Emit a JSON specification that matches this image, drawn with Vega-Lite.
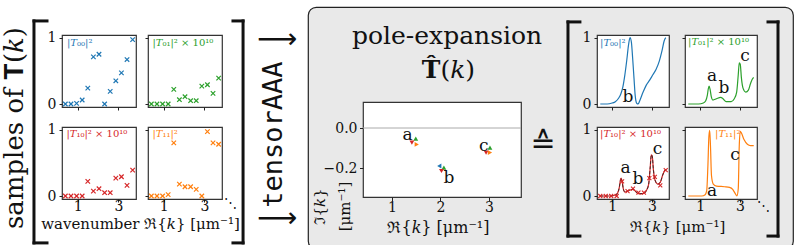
{
  "$schema": "https://vega.github.io/schema/vega-lite/v6.json",
  "padding": 0,
  "bounds": "flush",
  "spacing": 0,
  "config": {
    "view": {"stroke": null},
    "text": {"font": "DejaVu Serif", "color": "#111"},
    "axis": {"domain": false, "grid": false, "tickColor": "#222", "tickWidth": 1, "labelFont": "DejaVu Serif", "labelFontSize": 14, "labelColor": "#111", "labelFlush": false, "labelOverlap": false, "titleFont": "DejaVu Serif", "titleFontSize": 15, "titleFontWeight": "normal", "titleColor": "#111"}
  },
  "datasets": {
    "samples": [
      {"re": 0.4, "T00": 0, "T01": 0, "T10": 0, "T11": 0},
      {"re": 0.675, "T00": 0, "T01": 0, "T10": 0, "T11": 0},
      {"re": 0.95, "T00": 0.01, "T01": 0, "T10": 0, "T11": 0},
      {"re": 1.225, "T00": 0.06, "T01": 0, "T10": 0, "T11": 0.02},
      {"re": 1.5, "T00": 0.24, "T01": 0.22, "T10": 0.22, "T11": 0.8},
      {"re": 1.775, "T00": 0.71, "T01": 0.065, "T10": 0.074, "T11": 0.18},
      {"re": 2.05, "T00": 0.75, "T01": 0.11, "T10": 0.11, "T11": 0.14},
      {"re": 2.325, "T00": 0, "T01": 0.05, "T10": 0.05, "T11": 0.14},
      {"re": 2.6, "T00": 0.19, "T01": 0.05, "T10": 0.05, "T11": 0.1},
      {"re": 2.875, "T00": 0.35, "T01": 0.27, "T10": 0.27, "T11": 0},
      {"re": 3.15, "T00": 0.47, "T01": 0.29, "T10": 0.29, "T11": 0.97},
      {"re": 3.425, "T00": 0.67, "T01": 0.16, "T10": 0.16, "T11": 0.8},
      {"re": 3.7, "T00": 0.97, "T01": 0.39, "T10": 0.39, "T11": 0.78}
    ],
    "curves": [
      {"el": "T00", "re": 0.4, "v": 0}, {"el": "T00", "re": 0.75, "v": 0}, {"el": "T00", "re": 1.0, "v": 0.015}, {"el": "T00", "re": 1.16, "v": 0.035}, {"el": "T00", "re": 1.33, "v": 0.09}, {"el": "T00", "re": 1.44, "v": 0.155}, {"el": "T00", "re": 1.54, "v": 0.26}, {"el": "T00", "re": 1.64, "v": 0.44}, {"el": "T00", "re": 1.74, "v": 0.67}, {"el": "T00", "re": 1.82, "v": 0.88}, {"el": "T00", "re": 1.9, "v": 1.0}, {"el": "T00", "re": 1.97, "v": 0.93}, {"el": "T00", "re": 2.03, "v": 0.7}, {"el": "T00", "re": 2.1, "v": 0.39}, {"el": "T00", "re": 2.16, "v": 0.13}, {"el": "T00", "re": 2.23, "v": 0.015}, {"el": "T00", "re": 2.31, "v": 0}, {"el": "T00", "re": 2.39, "v": 0.05}, {"el": "T00", "re": 2.56, "v": 0.18}, {"el": "T00", "re": 2.72, "v": 0.285}, {"el": "T00", "re": 2.89, "v": 0.36}, {"el": "T00", "re": 3.05, "v": 0.44}, {"el": "T00", "re": 3.21, "v": 0.52}, {"el": "T00", "re": 3.38, "v": 0.65}, {"el": "T00", "re": 3.51, "v": 0.8}, {"el": "T00", "re": 3.62, "v": 0.95}, {"el": "T00", "re": 3.7, "v": 1.0},
      {"el": "T01", "re": 0.4, "v": 0}, {"el": "T01", "re": 0.92, "v": 0}, {"el": "T01", "re": 1.16, "v": 0.015}, {"el": "T01", "re": 1.28, "v": 0.05}, {"el": "T01", "re": 1.36, "v": 0.13}, {"el": "T01", "re": 1.41, "v": 0.23}, {"el": "T01", "re": 1.45, "v": 0.27}, {"el": "T01", "re": 1.5, "v": 0.22}, {"el": "T01", "re": 1.56, "v": 0.11}, {"el": "T01", "re": 1.64, "v": 0.06}, {"el": "T01", "re": 1.82, "v": 0.08}, {"el": "T01", "re": 2.03, "v": 0.1}, {"el": "T01", "re": 2.15, "v": 0.08}, {"el": "T01", "re": 2.31, "v": 0.036}, {"el": "T01", "re": 2.56, "v": 0.036}, {"el": "T01", "re": 2.72, "v": 0.08}, {"el": "T01", "re": 2.84, "v": 0.18}, {"el": "T01", "re": 2.92, "v": 0.44}, {"el": "T01", "re": 2.97, "v": 0.62}, {"el": "T01", "re": 3.02, "v": 0.6}, {"el": "T01", "re": 3.08, "v": 0.39}, {"el": "T01", "re": 3.16, "v": 0.24}, {"el": "T01", "re": 3.3, "v": 0.18}, {"el": "T01", "re": 3.43, "v": 0.21}, {"el": "T01", "re": 3.54, "v": 0.31}, {"el": "T01", "re": 3.64, "v": 0.38}, {"el": "T01", "re": 3.7, "v": 0.4},
      {"el": "T10", "re": 0.4, "v": 0}, {"el": "T10", "re": 0.92, "v": 0}, {"el": "T10", "re": 1.16, "v": 0.015}, {"el": "T10", "re": 1.28, "v": 0.05}, {"el": "T10", "re": 1.36, "v": 0.13}, {"el": "T10", "re": 1.41, "v": 0.23}, {"el": "T10", "re": 1.45, "v": 0.27}, {"el": "T10", "re": 1.5, "v": 0.22}, {"el": "T10", "re": 1.56, "v": 0.11}, {"el": "T10", "re": 1.64, "v": 0.06}, {"el": "T10", "re": 1.82, "v": 0.08}, {"el": "T10", "re": 2.03, "v": 0.1}, {"el": "T10", "re": 2.15, "v": 0.08}, {"el": "T10", "re": 2.31, "v": 0.036}, {"el": "T10", "re": 2.56, "v": 0.036}, {"el": "T10", "re": 2.72, "v": 0.08}, {"el": "T10", "re": 2.84, "v": 0.18}, {"el": "T10", "re": 2.92, "v": 0.44}, {"el": "T10", "re": 2.97, "v": 0.62}, {"el": "T10", "re": 3.02, "v": 0.6}, {"el": "T10", "re": 3.08, "v": 0.39}, {"el": "T10", "re": 3.16, "v": 0.24}, {"el": "T10", "re": 3.3, "v": 0.18}, {"el": "T10", "re": 3.43, "v": 0.21}, {"el": "T10", "re": 3.54, "v": 0.31}, {"el": "T10", "re": 3.64, "v": 0.38}, {"el": "T10", "re": 3.7, "v": 0.4},
      {"el": "T11", "re": 0.4, "v": 0}, {"el": "T11", "re": 1.08, "v": 0}, {"el": "T11", "re": 1.25, "v": 0.02}, {"el": "T11", "re": 1.33, "v": 0.08}, {"el": "T11", "re": 1.39, "v": 0.46}, {"el": "T11", "re": 1.44, "v": 0.9}, {"el": "T11", "re": 1.48, "v": 0.99}, {"el": "T11", "re": 1.52, "v": 0.75}, {"el": "T11", "re": 1.57, "v": 0.31}, {"el": "T11", "re": 1.66, "v": 0.18}, {"el": "T11", "re": 1.82, "v": 0.15}, {"el": "T11", "re": 2.23, "v": 0.14}, {"el": "T11", "re": 2.48, "v": 0.13}, {"el": "T11", "re": 2.64, "v": 0.1}, {"el": "T11", "re": 2.77, "v": 0.035}, {"el": "T11", "re": 2.85, "v": 0}, {"el": "T11", "re": 2.92, "v": 0.11}, {"el": "T11", "re": 2.97, "v": 0.75}, {"el": "T11", "re": 3.02, "v": 0.975}, {"el": "T11", "re": 3.08, "v": 0.95}, {"el": "T11", "re": 3.21, "v": 0.85}, {"el": "T11", "re": 3.38, "v": 0.78}, {"el": "T11", "re": 3.54, "v": 0.76}, {"el": "T11", "re": 3.7, "v": 0.76}
    ],
    "poles": [
      {"el": "T01", "re": 1.49, "im": -0.053},
      {"el": "T10", "re": 1.41, "im": -0.073},
      {"el": "T11", "re": 1.51, "im": -0.082},
      {"el": "T00", "re": 1.975, "im": -0.19},
      {"el": "T01", "re": 2.07, "im": -0.198},
      {"el": "T10", "re": 2.02, "im": -0.215},
      {"el": "T01", "re": 3.02, "im": -0.098},
      {"el": "T10", "re": 2.94, "im": -0.123},
      {"el": "T11", "re": 3.02, "im": -0.123}
    ]
  },
  "hconcat": [
    {
      "width": 62, "height": 245,
      "data": {"values": [{}]},
      "layer": [
        {"mark": {"type": "text", "angle": 270, "fontSize": 26, "align": "center", "baseline": "middle"},
         "encoding": {"x": {"datum": 0.242, "type": "quantitative", "scale": {"domain": [0, 1]}, "axis": null}, "y": {"datum": 0.502, "type": "quantitative", "scale": {"domain": [0, 1]}, "axis": null}, "text": {"value": "samples of 𝐓(𝑘)"}}},
        {"mark": {"type": "rule", "strokeWidth": 3, "color": "#111", "strokeCap": "square"},
         "encoding": {"x": {"datum": 0.548, "type": "quantitative"}, "y": {"datum": 0.033, "type": "quantitative"}, "y2": {"datum": 0.939}}},
        {"mark": {"type": "rule", "strokeWidth": 3, "color": "#111", "strokeCap": "square"},
         "encoding": {"x": {"datum": 0.548, "type": "quantitative"}, "x2": {"datum": 0.758}, "y": {"datum": 0.939, "type": "quantitative"}}},
        {"mark": {"type": "rule", "strokeWidth": 3, "color": "#111", "strokeCap": "square"},
         "encoding": {"x": {"datum": 0.548, "type": "quantitative"}, "x2": {"datum": 0.758}, "y": {"datum": 0.033, "type": "quantitative"}}}
      ]
    },
    {
      "concat": [
        {"width": 74, "height": 9, "data": {"values": [{}]}, "mark": {"type": "text"}, "encoding": {}},
        {"width": 74, "height": 9, "data": {"values": [{}]}, "mark": {"type": "text"}, "encoding": {}},
        {
          "width": 74, "height": 72,
          "view": {"stroke": "#333", "strokeWidth": 1.2, "fill": "white"},
          "layer": [
            {"data": {"name": "samples"},
             "mark": {"type": "point", "shape": "M-1,-1L1,1M1,-1L-1,1", "filled": false, "strokeWidth": 1.2, "size": 20, "color": "#1f77b4", "opacity": 1},
             "encoding": {
               "x": {"field": "re", "type": "quantitative", "scale": {"domain": [0.235, 3.865], "nice": false, "zero": false}, "axis": {"values": [1, 2, 3], "labels": false, "title": null, "tickSize": 3}},
               "y": {"field": "T00", "type": "quantitative", "scale": {"domain": [-0.045, 1.04], "nice": false, "zero": false}, "axis": {"values": [0, 1], "format": "d", "title": null, "tickSize": 3, "labelPadding": 3}}}},
            {"data": {"values": [{}]},
             "mark": {"type": "text", "align": "left", "baseline": "middle", "fontSize": 10, "color": "#1f77b4"},
             "encoding": {"x": {"datum": 0.48, "type": "quantitative"}, "y": {"datum": 0.92, "type": "quantitative"}, "text": {"value": "|𝑇₀₀|²"}}}
          ]
        },
        {
          "width": 74, "height": 72,
          "view": {"stroke": "#333", "strokeWidth": 1.2, "fill": "white"},
          "layer": [
            {"data": {"name": "samples"},
             "mark": {"type": "point", "shape": "M-1,-1L1,1M1,-1L-1,1", "filled": false, "strokeWidth": 1.2, "size": 20, "color": "#2ca02c", "opacity": 1},
             "encoding": {
               "x": {"field": "re", "type": "quantitative", "scale": {"domain": [0.235, 3.865], "nice": false, "zero": false}, "axis": {"values": [1, 2, 3], "labels": false, "title": null, "tickSize": 3}},
               "y": {"field": "T01", "type": "quantitative", "scale": {"domain": [-0.045, 1.04], "nice": false, "zero": false}, "axis": {"values": [0, 1], "labels": false, "title": null, "tickSize": 3}}}},
            {"data": {"values": [{}]},
             "mark": {"type": "text", "align": "left", "baseline": "middle", "fontSize": 10, "color": "#2ca02c"},
             "encoding": {"x": {"datum": 0.45, "type": "quantitative"}, "y": {"datum": 0.92, "type": "quantitative"}, "text": {"value": "|𝑇₀₁|² × 10¹⁰"}}}
          ]
        },
        {
          "width": 74, "height": 72,
          "view": {"stroke": "#333", "strokeWidth": 1.2, "fill": "white"},
          "layer": [
            {"data": {"name": "samples"},
             "mark": {"type": "point", "shape": "M-1,-1L1,1M1,-1L-1,1", "filled": false, "strokeWidth": 1.2, "size": 20, "color": "#d62728", "opacity": 1},
             "encoding": {
               "x": {"field": "re", "type": "quantitative", "scale": {"domain": [0.235, 3.865], "nice": false, "zero": false}, "axis": {"values": [1, 2, 3], "format": "d", "title": "wavenumber ℜ{𝑘} [μm⁻¹]", "titleX": 78, "titleY": 24, "titleBaseline": "middle", "titleAlign": "center", "tickSize": 3, "labelBaseline": "middle", "labelPadding": 4}},
               "y": {"field": "T10", "type": "quantitative", "scale": {"domain": [-0.045, 1.04], "nice": false, "zero": false}, "axis": {"values": [0, 1], "format": "d", "title": null, "tickSize": 3, "labelPadding": 3}}}},
            {"data": {"values": [{}]},
             "mark": {"type": "text", "align": "left", "baseline": "middle", "fontSize": 10, "color": "#d62728"},
             "encoding": {"x": {"datum": 0.45, "type": "quantitative"}, "y": {"datum": 0.93, "type": "quantitative"}, "text": {"value": "|𝑇₁₀|² × 10¹⁰"}}}
          ]
        },
        {
          "width": 74, "height": 72,
          "view": {"stroke": "#333", "strokeWidth": 1.2, "fill": "white"},
          "layer": [
            {"data": {"name": "samples"},
             "mark": {"type": "point", "shape": "M-1,-1L1,1M1,-1L-1,1", "filled": false, "strokeWidth": 1.2, "size": 20, "color": "#ff7f0e", "opacity": 1},
             "encoding": {
               "x": {"field": "re", "type": "quantitative", "scale": {"domain": [0.235, 3.865], "nice": false, "zero": false}, "axis": {"values": [1, 2, 3], "format": "d", "title": null, "tickSize": 3, "labelBaseline": "middle", "labelPadding": 4}},
               "y": {"field": "T11", "type": "quantitative", "scale": {"domain": [-0.045, 1.04], "nice": false, "zero": false}, "axis": {"values": [0, 1], "labels": false, "title": null, "tickSize": 3}}}},
            {"data": {"values": [{}]},
             "mark": {"type": "text", "align": "left", "baseline": "middle", "fontSize": 10, "color": "#ff7f0e"},
             "encoding": {"x": {"datum": 0.45, "type": "quantitative"}, "y": {"datum": 0.93, "type": "quantitative"}, "text": {"value": "|𝑇₁₁|²"}}}
          ]
        }
      ],
      "columns": 2, "spacing": {"row": 20, "column": 12}, "bounds": "flush", "align": "each"
    },
    {
      "width": 246, "height": 245,
      "data": {"values": [{}]},
      "layer": [
        {"mark": {"type": "rule", "strokeWidth": 3, "color": "#111", "strokeCap": "square"},
         "encoding": {"x": {"datum": 0.736, "type": "quantitative", "scale": {"domain": [0, 1]}, "axis": null}, "y": {"datum": 0.033, "type": "quantitative", "scale": {"domain": [0, 1]}, "axis": null}, "y2": {"datum": 0.939}}},
        {"mark": {"type": "rule", "strokeWidth": 3, "color": "#111", "strokeCap": "square"},
         "encoding": {"x": {"datum": 0.695, "type": "quantitative"}, "x2": {"datum": 0.736}, "y": {"datum": 0.939, "type": "quantitative"}}},
        {"mark": {"type": "rule", "strokeWidth": 3, "color": "#111", "strokeCap": "square"},
         "encoding": {"x": {"datum": 0.695, "type": "quantitative"}, "x2": {"datum": 0.736}, "y": {"datum": 0.033, "type": "quantitative"}}},
        {"mark": {"type": "text", "fontSize": 13, "align": "center", "baseline": "middle"},
         "encoding": {"x": {"datum": 0.683, "type": "quantitative"}, "y": {"datum": 0.196, "type": "quantitative"}, "text": {"value": "⋱"}}},
        {"mark": {"type": "text", "fontSize": 28, "font": "DejaVu Sans", "align": "center", "baseline": "middle"},
         "encoding": {"x": {"datum": 0.874, "type": "quantitative"}, "y": {"datum": 0.861, "type": "quantitative"}, "text": {"value": "⟶"}}},
        {"mark": {"type": "text", "fontSize": 28, "font": "DejaVu Sans", "align": "center", "baseline": "middle"},
         "encoding": {"x": {"datum": 0.874, "type": "quantitative"}, "y": {"datum": 0.131, "type": "quantitative"}, "text": {"value": "⟶"}}},
        {"mark": {"type": "text", "fontSize": 27, "font": "DejaVu Sans Mono", "angle": 270, "align": "center", "baseline": "middle"},
         "encoding": {"x": {"datum": 0.862, "type": "quantitative"}, "y": {"datum": 0.475, "type": "quantitative"}, "text": {"value": "tensorAAA"}}}
      ]
    },
    {
      "vconcat": [
        {"width": 485, "height": 1, "data": {"values": [{}]}, "mark": {"type": "text"}, "encoding": {}},
        {"width": 485, "height": 242, "view": {"fill": "#e9e9e9", "stroke": "#222", "strokeWidth": 1.2, "cornerRadius": 8}, "data": {"values": [{}]}, "mark": {"type": "text"}, "encoding": {}}
      ],
      "spacing": 0, "bounds": "flush"
    },
    {"width": 55, "height": 245, "data": {"values": [{}]}, "mark": {"type": "text"}, "encoding": {}},
    {
      "vconcat": [
        {
          "width": 158, "height": 96,
          "data": {"values": [{}]},
          "layer": [
            {"mark": {"type": "text", "fontSize": 25, "align": "center", "baseline": "middle"},
             "encoding": {"x": {"datum": 0.532, "type": "quantitative", "scale": {"domain": [0, 1]}, "axis": null}, "y": {"datum": 0.6875, "type": "quantitative", "scale": {"domain": [0, 1]}, "axis": null}, "text": {"value": "pole-expansion"}}},
            {"mark": {"type": "text", "fontSize": 25, "fontWeight": "bold", "align": "right", "baseline": "middle"},
             "encoding": {"x": {"datum": 0.49, "type": "quantitative"}, "y": {"datum": 0.333, "type": "quantitative"}, "text": {"value": "T̂"}}},
            {"mark": {"type": "text", "fontSize": 25, "align": "left", "baseline": "middle"},
             "encoding": {"x": {"datum": 0.49, "type": "quantitative"}, "y": {"datum": 0.333, "type": "quantitative"}, "text": {"value": "(𝑘)"}}}
          ]
        },
        {
          "width": 158, "height": 95,
          "view": {"stroke": "#333", "strokeWidth": 1.2, "fill": "white"},
          "layer": [
            {"data": {"name": "poles"},
             "mark": {"type": "point", "filled": true, "size": 24, "opacity": 1},
             "encoding": {
               "x": {"field": "re", "type": "quantitative", "scale": {"domain": [0.402, 3.66], "nice": false, "zero": false}, "axis": {"values": [1, 2, 3], "format": "d", "title": "ℜ{𝑘} [μm⁻¹]", "titleX": 75, "titleY": 30, "titleBaseline": "middle", "titleAlign": "center", "titleFontSize": 16, "tickSize": 3.5, "labelBaseline": "middle", "labelPadding": 7}},
               "y": {"field": "im", "type": "quantitative", "scale": {"domain": [-0.345, 0.13], "nice": false, "zero": false}, "axis": {"values": [0, -0.2], "format": ".1f", "title": ["ℑ{𝑘}", "[μm⁻¹]"], "titleX": -44, "titleY": 104, "titleAngle": 270, "titleBaseline": "middle", "titleAlign": "center", "titleLineHeight": 25, "titleFontSize": 15, "tickSize": 3.5, "labelPadding": 2.5}},
               "color": {"field": "el", "type": "nominal", "scale": {"domain": ["T00", "T01", "T10", "T11"], "range": ["#1f77b4", "#2ca02c", "#d62728", "#ff7f0e"]}, "legend": null},
               "shape": {"field": "el", "type": "nominal", "scale": {"domain": ["T00", "T01", "T10", "T11"], "range": ["triangle-left", "triangle-up", "triangle-down", "triangle-right"]}, "legend": null}}},
            {"data": {"values": [{}]}, "mark": {"type": "rule", "color": "#aaa", "strokeWidth": 1}, "encoding": {"y": {"datum": 0, "type": "quantitative"}}},
            {"data": {"values": [{}]}, "mark": {"type": "text", "fontSize": 17, "align": "center", "baseline": "middle"}, "encoding": {"x": {"datum": 1.32, "type": "quantitative"}, "y": {"datum": -0.035, "type": "quantitative"}, "text": {"value": "a"}}},
            {"data": {"values": [{}]}, "mark": {"type": "text", "fontSize": 17, "align": "center", "baseline": "middle"}, "encoding": {"x": {"datum": 2.175, "type": "quantitative"}, "y": {"datum": -0.25, "type": "quantitative"}, "text": {"value": "b"}}},
            {"data": {"values": [{}]}, "mark": {"type": "text", "fontSize": 17, "align": "center", "baseline": "middle"}, "encoding": {"x": {"datum": 2.89, "type": "quantitative"}, "y": {"datum": -0.0875, "type": "quantitative"}, "text": {"value": "c"}}}
          ]
        }
      ],
      "spacing": 0, "bounds": "flush"
    },
    {
      "width": 234, "height": 245,
      "data": {"values": [{}]},
      "layer": [
        {"mark": {"type": "text", "fontSize": 30, "font": "DejaVu Sans", "align": "center", "baseline": "middle"},
         "encoding": {"x": {"datum": 0.77, "type": "quantitative", "scale": {"domain": [0, 1]}, "axis": null}, "y": {"datum": 0.437, "type": "quantitative", "scale": {"domain": [0, 1]}, "axis": null}, "text": {"value": "≙"}}},
        {"mark": {"type": "rule", "strokeWidth": 3, "color": "#111", "strokeCap": "square"},
         "encoding": {"x": {"datum": 0.876, "type": "quantitative"}, "y": {"datum": 0.061, "type": "quantitative"}, "y2": {"datum": 0.935}}},
        {"mark": {"type": "rule", "strokeWidth": 3, "color": "#111", "strokeCap": "square"},
         "encoding": {"x": {"datum": 0.876, "type": "quantitative"}, "x2": {"datum": 0.927}, "y": {"datum": 0.935, "type": "quantitative"}}},
        {"mark": {"type": "rule", "strokeWidth": 3, "color": "#111", "strokeCap": "square"},
         "encoding": {"x": {"datum": 0.876, "type": "quantitative"}, "x2": {"datum": 0.927}, "y": {"datum": 0.061, "type": "quantitative"}}}
      ]
    },
    {
      "concat": [
        {"width": 72, "height": 9, "data": {"values": [{}]}, "mark": {"type": "text"}, "encoding": {}},
        {"width": 72, "height": 9, "data": {"values": [{}]}, "mark": {"type": "text"}, "encoding": {}},
        {
          "width": 72, "height": 72,
          "view": {"stroke": "#333", "strokeWidth": 1.2, "fill": "white"},
          "layer": [
            {"data": {"name": "curves"}, "transform": [{"filter": "datum.el === 'T00'"}],
             "mark": {"type": "line", "interpolate": "monotone", "strokeWidth": 1.2, "color": "#1f77b4"},
             "encoding": {
               "x": {"field": "re", "type": "quantitative", "scale": {"domain": [0.235, 3.865], "nice": false, "zero": false}, "axis": {"values": [1, 2, 3], "labels": false, "title": null, "tickSize": 3}},
               "y": {"field": "v", "type": "quantitative", "scale": {"domain": [-0.045, 1.04], "nice": false, "zero": false}, "axis": {"values": [0, 1], "format": "d", "title": null, "tickSize": 3, "labelPadding": 3}}}},
            {"data": {"values": [{}]}, "mark": {"type": "text", "align": "left", "baseline": "middle", "fontSize": 10, "color": "#1f77b4"},
             "encoding": {"x": {"datum": 0.39, "type": "quantitative"}, "y": {"datum": 0.92, "type": "quantitative"}, "text": {"value": "|𝑇₀₀|²"}}},
            {"data": {"values": [{}]}, "mark": {"type": "text", "fontSize": 17, "align": "center", "baseline": "middle"},
             "encoding": {"x": {"datum": 1.8, "type": "quantitative"}, "y": {"datum": 0.106, "type": "quantitative"}, "text": {"value": "b"}}}
          ]
        },
        {
          "width": 72, "height": 72,
          "view": {"stroke": "#333", "strokeWidth": 1.2, "fill": "white"},
          "layer": [
            {"data": {"name": "curves"}, "transform": [{"filter": "datum.el === 'T01'"}],
             "mark": {"type": "line", "interpolate": "monotone", "strokeWidth": 1.2, "color": "#2ca02c"},
             "encoding": {
               "x": {"field": "re", "type": "quantitative", "scale": {"domain": [0.235, 3.865], "nice": false, "zero": false}, "axis": {"values": [1, 2, 3], "labels": false, "title": null, "tickSize": 3}},
               "y": {"field": "v", "type": "quantitative", "scale": {"domain": [-0.045, 1.04], "nice": false, "zero": false}, "axis": {"values": [0, 1], "labels": false, "title": null, "tickSize": 3}}}},
            {"data": {"values": [{}]}, "mark": {"type": "text", "align": "left", "baseline": "middle", "fontSize": 10, "color": "#2ca02c"},
             "encoding": {"x": {"datum": 0.39, "type": "quantitative"}, "y": {"datum": 0.93, "type": "quantitative"}, "text": {"value": "|𝑇₀₁|² × 10¹⁰"}}},
            {"data": {"values": [{}]}, "mark": {"type": "text", "fontSize": 17, "align": "center", "baseline": "middle"},
             "encoding": {"x": {"datum": 1.6, "type": "quantitative"}, "y": {"datum": 0.42, "type": "quantitative"}, "text": {"value": "a"}}},
            {"data": {"values": [{}]}, "mark": {"type": "text", "fontSize": 17, "align": "center", "baseline": "middle"},
             "encoding": {"x": {"datum": 2.2, "type": "quantitative"}, "y": {"datum": 0.24, "type": "quantitative"}, "text": {"value": "b"}}},
            {"data": {"values": [{}]}, "mark": {"type": "text", "fontSize": 17, "align": "center", "baseline": "middle"},
             "encoding": {"x": {"datum": 3.26, "type": "quantitative"}, "y": {"datum": 0.72, "type": "quantitative"}, "text": {"value": "c"}}}
          ]
        },
        {
          "width": 72, "height": 72,
          "view": {"stroke": "#333", "strokeWidth": 1.2, "fill": "white"},
          "layer": [
            {"data": {"name": "curves"}, "transform": [{"filter": "datum.el === 'T10'"}],
             "mark": {"type": "line", "interpolate": "monotone", "strokeWidth": 1.2, "color": "#d62728"},
             "encoding": {
               "x": {"field": "re", "type": "quantitative", "scale": {"domain": [0.235, 3.865], "nice": false, "zero": false}, "axis": {"values": [1, 2, 3], "format": "d", "title": "ℜ{𝑘} [μm⁻¹]", "titleX": 80, "titleY": 27, "titleBaseline": "middle", "titleAlign": "center", "tickSize": 3, "labelBaseline": "middle", "labelPadding": 4}},
               "y": {"field": "v", "type": "quantitative", "scale": {"domain": [-0.045, 1.04], "nice": false, "zero": false}, "axis": {"values": [0, 1], "format": "d", "title": null, "tickSize": 3, "labelPadding": 3}}}},
            {"data": {"name": "curves"}, "transform": [{"filter": "datum.el === 'T10'"}],
             "mark": {"type": "line", "interpolate": "monotone", "strokeWidth": 1, "color": "#222", "strokeDash": [3, 2], "opacity": 0.8},
             "encoding": {"x": {"field": "re", "type": "quantitative"}, "y": {"field": "v", "type": "quantitative"}}},
            {"data": {"name": "samples"},
             "mark": {"type": "point", "shape": "M-1,-1L1,1M1,-1L-1,1", "filled": false, "strokeWidth": 1.1, "size": 16, "color": "#d62728", "opacity": 1},
             "encoding": {"x": {"field": "re", "type": "quantitative"}, "y": {"field": "T10", "type": "quantitative"}}},
            {"data": {"values": [{}]}, "mark": {"type": "text", "align": "left", "baseline": "middle", "fontSize": 10, "color": "#d62728"},
             "encoding": {"x": {"datum": 0.39, "type": "quantitative"}, "y": {"datum": 0.94, "type": "quantitative"}, "text": {"value": "|𝑇₁₀|² × 10¹⁰"}}},
            {"data": {"values": [{}]}, "mark": {"type": "text", "fontSize": 17, "align": "center", "baseline": "middle"},
             "encoding": {"x": {"datum": 1.68, "type": "quantitative"}, "y": {"datum": 0.42, "type": "quantitative"}, "text": {"value": "a"}}},
            {"data": {"values": [{}]}, "mark": {"type": "text", "fontSize": 17, "align": "center", "baseline": "middle"},
             "encoding": {"x": {"datum": 2.3, "type": "quantitative"}, "y": {"datum": 0.26, "type": "quantitative"}, "text": {"value": "b"}}},
            {"data": {"values": [{}]}, "mark": {"type": "text", "fontSize": 17, "align": "center", "baseline": "middle"},
             "encoding": {"x": {"datum": 3.28, "type": "quantitative"}, "y": {"datum": 0.71, "type": "quantitative"}, "text": {"value": "c"}}}
          ]
        },
        {
          "width": 72, "height": 72,
          "view": {"stroke": "#333", "strokeWidth": 1.2, "fill": "white"},
          "layer": [
            {"data": {"name": "curves"}, "transform": [{"filter": "datum.el === 'T11'"}],
             "mark": {"type": "line", "interpolate": "monotone", "strokeWidth": 1.2, "color": "#ff7f0e"},
             "encoding": {
               "x": {"field": "re", "type": "quantitative", "scale": {"domain": [0.235, 3.865], "nice": false, "zero": false}, "axis": {"values": [1, 2, 3], "format": "d", "title": null, "tickSize": 3, "labelBaseline": "middle", "labelPadding": 4}},
               "y": {"field": "v", "type": "quantitative", "scale": {"domain": [-0.045, 1.04], "nice": false, "zero": false}, "axis": {"values": [0, 1], "labels": false, "title": null, "tickSize": 3}}}},
            {"data": {"values": [{}]}, "mark": {"type": "text", "align": "left", "baseline": "middle", "fontSize": 10, "color": "#ff7f0e"},
             "encoding": {"x": {"datum": 1.75, "type": "quantitative"}, "y": {"datum": 0.93, "type": "quantitative"}, "text": {"value": "|𝑇₁₁|²"}}},
            {"data": {"values": [{}]}, "mark": {"type": "text", "fontSize": 17, "align": "center", "baseline": "middle"},
             "encoding": {"x": {"datum": 1.6, "type": "quantitative"}, "y": {"datum": 0.083, "type": "quantitative"}, "text": {"value": "a"}}},
            {"data": {"values": [{}]}, "mark": {"type": "text", "fontSize": 17, "align": "center", "baseline": "middle"},
             "encoding": {"x": {"datum": 2.76, "type": "quantitative"}, "y": {"datum": 0.62, "type": "quantitative"}, "text": {"value": "c"}}}
          ]
        }
      ],
      "columns": 2, "spacing": {"row": 20, "column": 16}, "bounds": "flush", "align": "each"
    },
    {
      "width": 200, "height": 245,
      "data": {"values": [{}]},
      "layer": [
        {"mark": {"type": "rule", "strokeWidth": 3, "color": "#111", "strokeCap": "square"},
         "encoding": {"x": {"datum": 0.905, "type": "quantitative", "scale": {"domain": [0, 1]}, "axis": null}, "y": {"datum": 0.061, "type": "quantitative", "scale": {"domain": [0, 1]}, "axis": null}, "y2": {"datum": 0.935}}},
        {"mark": {"type": "rule", "strokeWidth": 3, "color": "#111", "strokeCap": "square"},
         "encoding": {"x": {"datum": 0.855, "type": "quantitative"}, "x2": {"datum": 0.905}, "y": {"datum": 0.935, "type": "quantitative"}}},
        {"mark": {"type": "rule", "strokeWidth": 3, "color": "#111", "strokeCap": "square"},
         "encoding": {"x": {"datum": 0.855, "type": "quantitative"}, "x2": {"datum": 0.905}, "y": {"datum": 0.061, "type": "quantitative"}}},
        {"mark": {"type": "text", "fontSize": 13, "align": "center", "baseline": "middle"},
         "encoding": {"x": {"datum": 0.83, "type": "quantitative"}, "y": {"datum": 0.184, "type": "quantitative"}, "text": {"value": "⋱"}}}
      ]
    }
  ]
}
